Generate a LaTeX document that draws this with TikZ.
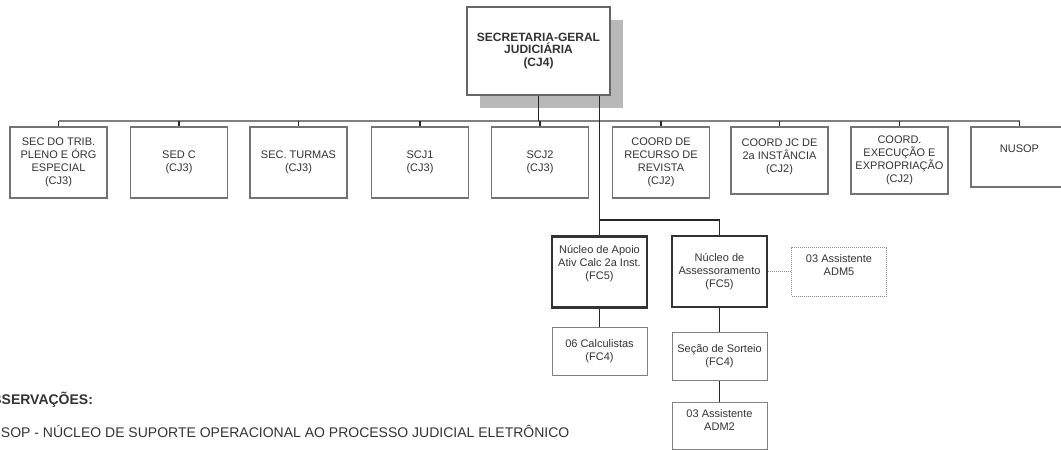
\documentclass[tikz,border=0pt]{standalone}
\usepackage{fontspec}
\setmainfont{Liberation Sans}
\usetikzlibrary{shadows}
\begin{document}
\begin{tikzpicture}[x=1pt,y=-1pt,
  every node/.style={text=black!80},
  topbox/.style={draw=black!60, line width=2.2pt, fill=white, align=center,
    minimum width=143pt, minimum height=88pt, inner sep=0pt,
    font=\bfseries\fontsize{12}{12.5}\selectfont,
    drop shadow={shadow xshift=13pt, shadow yshift=-13pt, fill=black!28, opacity=1}},
  rowbox/.style={draw=black!55, line width=1.6pt, fill=white, align=center,
    minimum width=97pt, inner sep=0pt, font=\fontsize{11}{13}\selectfont},
  thickbox/.style={draw=black!80, line width=2.6pt, fill=white, align=center,
    minimum width=95pt, inner sep=0pt, font=\fontsize{11}{13}\selectfont},
  thinbox/.style={draw=black!50, line width=1pt, fill=white, align=center,
    minimum width=95pt, inner sep=0pt, font=\fontsize{11}{13}\selectfont},
  dotbox/.style={thinbox, draw=black!45, dash pattern=on 1pt off 1pt},
  boxtext/.style={align=center, inner sep=0pt, font=\fontsize{11}{13}\selectfont},
  busline/.style={draw=black!50, line width=1.8pt},
  conn/.style={draw=black!85, line width=1.5pt},
  dotconn/.style={draw=black!45, line width=1pt, dash pattern=on 1pt off 1pt},
  obs/.style={anchor=base west, inner sep=0pt, font=\fontsize{14}{16}\selectfont}
]
\useasboundingbox (0,0) rectangle (1061,450);

% top box
\node[topbox] (top) at (538.5,51) {SECRETARIA-GERAL\\JUDICIÁRIA\\(CJ4)};

% row of boxes
\node[rowbox, minimum height=71pt] (b1) at (58.5,162.5) {SEC DO TRIB.\\PLENO E ÓRG\\ESPECIAL\\(CJ3)};
\node[rowbox, minimum height=71pt] (b2) at (179,162.5) {SED C\\(CJ3)};
\node[rowbox, minimum height=71pt] (b3) at (298.5,162.5) {SEC. TURMAS\\(CJ3)};
\node[rowbox, minimum height=71pt] (b4) at (420,162.5) {SCJ1\\(CJ3)};
\node[rowbox, minimum height=71pt] (b5) at (540,162.5) {SCJ2\\(CJ3)};
\node[rowbox, minimum height=71pt] (b6) at (661,162.5) {COORD DE\\RECURSO DE\\REVISTA\\(CJ2)};
\node[rowbox, minimum height=67pt] (b7) at (779.5,160.5) {};
\node[boxtext] (b7t) at (779.5,157) {COORD JC DE\\2a INSTÂNCIA\\(CJ2)};
\node[rowbox, minimum height=67pt] (b8) at (899.5,160.5) {};
\node[boxtext] (b8t) at (899.5,160) {COORD.\\EXECUÇÃO E\\EXPROPRIAÇÃO\\(CJ2)};
\node[rowbox, minimum height=60pt] (b9) at (1019.5,157) {};
\node[boxtext] (b9t) at (1019.5,149) {NUSOP};

% lower boxes
\node[thickbox, minimum height=71pt] (apoio) at (599.5,272) {};
\node[boxtext] (apoiot) at (599.5,264) {Núcleo de Apoio\\Ativ Calc 2a Inst.\\(FC5)};
\node[thickbox, minimum height=71pt] (assess) at (719.5,271.5) {Núcleo de\\Assessoramento\\(FC5)};
\node[dotbox, minimum height=49pt] (adm5) at (839,271.5) {};
\node[boxtext] (adm5t) at (839,265) {03 Assistente\\ADM5};
\node[thinbox, minimum height=48pt] (calc) at (599.5,351) {06 Calculistas\\(FC4)};
\node[thinbox, minimum height=48pt] (sort) at (719.5,356) {Seção de Sorteio\\(FC4)};
\node[thinbox, minimum height=47pt] (adm2) at (719.5,425.5) {};
\node[boxtext] (adm2t) at (719.5,420) {03 Assistente\\ADM2};

% connectors
\coordinate (bus) at (0,121);
\coordinate (junc) at (0,220);
\draw[busline] (b1.north |- bus) -- (b9.north |- bus);
\foreach \b in {b1,b2,b3,b4,b5,b6,b7,b8,b9}{
  \draw[conn, line width=1.2pt] (\b.north) -- (\b.north |- bus);
}
\draw[conn] (top.south) -- (top.south |- bus);
\draw[conn] (apoio.north |- top.south) -- (apoio.north);
\draw[conn] (apoio.north |- junc) -| (assess.north);
\draw[dotconn] (assess.east) -- (adm5.west);
\draw[conn] (apoio.south) -- (calc.north);
\draw[conn] (assess.south) -- (sort.north);
\draw[conn] (sort.south) -- (adm2.north);

% observations
\node[obs, font=\bfseries\fontsize{14}{16}\selectfont] (obs1) at (-19.5,404) {OBSERVAÇÕES:};
\node[obs] (obs2) at (-19.5,437.5) {NUSOP - NÚCLEO DE SUPORTE OPERACIONAL AO PROCESSO JUDICIAL ELETRÔNICO};
\end{tikzpicture}
\end{document}
